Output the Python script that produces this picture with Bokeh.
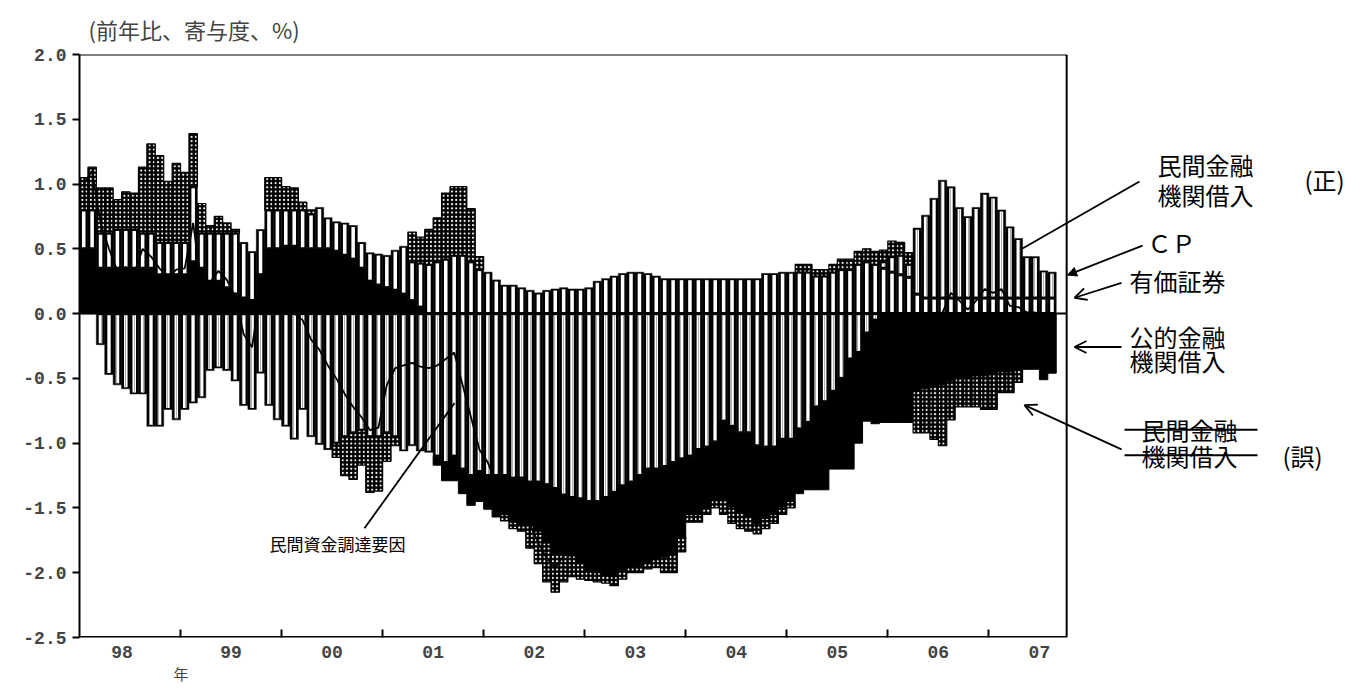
import numpy as np
from bokeh.plotting import figure
from bokeh.models import Range1d, FixedTicker, Arrow, OpenHead, NormalHead, Title
from bokeh.embed import file_html
from bokeh.resources import INLINE
from bokeh.core.properties import value

# ---- data: monthly contributions, 1998/01 .. 2007/08 (percent points) ----
start_year = 1998
public = [0.5, 0.5, 0.35, 0.35, 0.35, 0.35, 0.35, 0.35, 0.35, 0.3, 0.3, 0.3,
          0.3, 0.4, 0.35, 0.25, 0.25, 0.2, 0.15, 0.12, 0.1, 0.3, 0.5, 0.5,
          0.52, 0.52, 0.5, 0.5, 0.5, 0.5, 0.48, 0.45, 0.42, 0.35, 0.25, 0.22,
          0.2, 0.18, 0.15, 0.1, 0.05, 0.0, -0.07, -0.14, -0.19, -0.19, -0.23, -0.23,
          -0.26, -0.32, -0.3, -0.34, -0.36, -0.33, -0.38, -0.45, -0.5, -0.45, -0.45, -0.5,
          -0.53, -0.55, -0.6, -0.65, -0.65, -0.65, -0.7, -0.72, -0.7, -0.7, -0.7, -0.6,
          -0.45, -0.5, -0.47, -0.45, -0.6, -0.62, -0.62, -0.65, -0.6, -0.55, -0.52, -0.52,
          -0.48, -0.5, -0.52, -0.64, -0.68, -0.6, -0.7, -0.85, -0.7, -0.68, -0.8, -0.84,
          -0.84, -0.84, -0.84, -0.6, -0.58, -0.56, -0.55, -0.52, -0.5, -0.5, -0.48, -0.48,
          -0.47, -0.45, -0.45, -0.43, -0.43, -0.43, -0.51, -0.46]
securities = [0.3, 0.3, 0.27, 0.27, 0.3, 0.3, 0.3, 0.27, 0.27, 0.25, 0.25, 0.25,
              0.25, 0.58, 0.27, 0.37, 0.37, 0.42, 0.47, 0.43, 0.38, 0.35, 0.3, 0.3,
              0.28, 0.28, 0.3, 0.27, 0.32, 0.24, 0.23, 0.25, 0.26, 0.2, 0.22, 0.24,
              0.25, 0.31, 0.37, 0.3, 0.34, 0.38, 0.4, 0.42, 0.45, 0.45, 0.4, 0.34,
              0.32, 0.26, 0.22, 0.22, 0.2, 0.18, 0.16, 0.18, 0.19, 0.2, 0.19, 0.19,
              0.2, 0.25, 0.27, 0.29, 0.31, 0.32, 0.32, 0.31, 0.29, 0.27, 0.27, 0.27,
              0.27, 0.27, 0.27, 0.27, 0.27, 0.27, 0.27, 0.27, 0.27, 0.31, 0.31, 0.32,
              0.32, 0.32, 0.32, 0.29, 0.29, 0.32, 0.34, 0.34, 0.38, 0.4, 0.38, 0.35,
              0.32, 0.3, 0.28, 0.15, 0.12, 0.12, 0.12, 0.12, 0.12, 0.12, 0.12, 0.12,
              0.12, 0.12, 0.12, 0.12, 0.12, 0.12, 0.12, 0.12]
bank_loans = [0.0, 0.0, -0.24, -0.47, -0.55, -0.58, -0.62, -0.62, -0.87, -0.87, -0.74, -0.82,
              -0.74, -0.69, -0.65, -0.44, -0.42, -0.44, -0.52, -0.71, -0.74, -0.46, -0.71, -0.82,
              -0.87, -0.97, -0.74, -0.95, -1.01, -1.05, -1.0, -0.95, -0.92, -0.9, -0.95, -0.95,
              -0.92, -0.95, -1.06, -1.02, -1.06, -1.07, -1.1, -1.15, -1.1, -1.2, -1.25, -1.22,
              -1.25, -1.25, -1.25, -1.27, -1.27, -1.3, -1.3, -1.32, -1.35, -1.4, -1.42, -1.43,
              -1.45, -1.45, -1.42, -1.38, -1.33, -1.3, -1.25, -1.2, -1.2, -1.18, -1.15, -1.12,
              -1.1, -1.05, -1.03, -0.99, -0.83, -0.87, -0.92, -0.92, -1.02, -1.03, -1.03, -0.97,
              -0.97, -0.89, -0.84, -0.72, -0.68, -0.6, -0.5, -0.35, -0.3, -0.15, -0.05, 0.05,
              0.12, 0.15, 0.1, 0.51, 0.64, 0.77, 0.91, 0.86, 0.7, 0.63, 0.7, 0.81,
              0.78, 0.68, 0.55, 0.46, 0.32, 0.32, 0.21, 0.2]
cp = [0.25, 0.33, 0.35, 0.35, 0.23, 0.29, 0.28, 0.51, 0.69, 0.67, 0.47, 0.61,
      0.54, 0.41, 0.23, 0.06, 0.13, 0.08, 0.03, 0.0, 0.0, 0.0, 0.25, 0.25,
      0.18, 0.17, 0.06, 0.03, 0.0, 0.0, -0.11, -0.3, -0.36, -0.27, -0.43, -0.42,
      -0.22, -0.07, 0.0, 0.23, 0.2, 0.27, 0.34, 0.51, 0.53, 0.53, 0.41, 0.1,
      0.0, 0.0, -0.05, -0.05, -0.05, -0.18, -0.25, -0.3, -0.3, -0.22, -0.16, -0.12,
      -0.08, -0.07, -0.06, -0.07, -0.07, -0.05, -0.05, -0.05, -0.06, -0.12, -0.15, -0.12,
      -0.06, -0.06, -0.05, -0.06, -0.12, -0.13, -0.12, -0.11, -0.08, -0.08, -0.07, -0.06,
      -0.05, 0.06, 0.06, 0.05, 0.05, 0.06, 0.08, 0.08, 0.1, 0.1, 0.1, 0.09,
      0.12, 0.1, 0.09, -0.32, -0.34, -0.41, -0.47, -0.3, -0.22, -0.22, -0.24, -0.26,
      -0.27, -0.16, -0.16, -0.1, 0.0, 0.0, 0.0, 0.0]
private_funding = [1.0, 1.1, 0.7, 0.5, 0.33, 0.36, 0.31, 0.5, 0.44, 0.35, 0.28, 0.34,
                   0.35, 0.7, 0.2, 0.24, 0.33, 0.26, 0.13, -0.16, -0.26, 0.19, 0.34, 0.23,
                   0.11, 0.0, -0.05, -0.2, -0.28, -0.4, -0.5, -0.62, -0.72, -0.8, -0.9, -0.88,
                   -0.55, -0.42, -0.4, -0.38, -0.41, -0.42, -0.4, -0.35, -0.3, -0.55, -0.8, -1.05,
                   -1.15, -1.31, -1.38, -1.44, -1.48, -1.63, -1.77, -1.89, -1.96, -1.87, -1.84, -1.86,
                   -1.86, -1.82, -1.81, -1.81, -1.74, -1.68, -1.68, -1.66, -1.67, -1.73, -1.73, -1.57,
                   -1.34, -1.34, -1.28, -1.23, -1.28, -1.35, -1.39, -1.41, -1.43, -1.35, -1.31, -1.23,
                   -1.18, -1.07, -1.03, -1.07, -1.07, -0.88, -0.84, -0.84, -0.57, -0.38, -0.45, -0.35,
                   -0.28, -0.29, -0.37, -0.26, -0.16, -0.08, 0.01, 0.16, 0.1, 0.03, 0.1, 0.19,
                   0.16, 0.19, 0.06, 0.05, 0.01, 0.01, -0.18, -0.14]
year_labels = ["98", "99", "00", "01", "02", "03", "04", "05", "06", "07"]
y_ticks = [2.0, 1.5, 1.0, 0.5, 0.0, -0.5, -1.0, -1.5, -2.0, -2.5]

N = len(public)
xs = [start_year + (i + 0.5) / 12 for i in range(N)]
W = 1.0 / 12
PXY = 101.04                       # pixels per year
X0, XR = 1998.0, 2007.77          # plot box left / right edge
FIG_W, FIG_H = 1370, 683
BL, BT, BB = 79, 45, 46
XEND = X0 + (FIG_W - BL) / PXY    # frame continues to the right for the notes
TOP_PX = 51                        # page y of the frame top
PXU = (FIG_H - BT - BB) / 4.5      # pixels per unit on y

# ---- stacking (positive upward, negative downward) ----
series = {"public": public, "sec": securities, "bank": bank_loans, "cp": cp}
pos_order = ["public", "sec", "bank", "cp"]
neg_order = ["bank", "public", "sec", "cp"]
segs = {k: {"x": [], "bottom": [], "top": []} for k in series}
for i in range(N):
    base = 0.0
    for k in pos_order:
        v = series[k][i]
        if v > 0:
            segs[k]["x"].append(xs[i]); segs[k]["bottom"].append(base); segs[k]["top"].append(base + v)
            base += v
    base = 0.0
    for k in neg_order:
        v = series[k][i]
        if v < 0:
            segs[k]["x"].append(xs[i]); segs[k]["bottom"].append(base + v); segs[k]["top"].append(base)
            base += v

p = figure(width=FIG_W, height=FIG_H, output_backend="svg", toolbar_location=None,
           x_range=Range1d(X0, XEND), y_range=Range1d(-2.5, 2.0),
           min_border_left=BL, min_border_right=0, min_border_top=BT, min_border_bottom=BB,
           background_fill_color="white", border_fill_color="white", outline_line_color=None)
p.grid.visible = False

p.title.text = "(前年比、寄与度、%)"
p.title.text_font = "Noto Sans CJK JP"
p.title.text_font_size = "22px"
p.title.text_font_style = "normal"
p.title.text_line_height = 1.0
p.title.offset = 9
p.title.standoff = 20

inset = 0.012
def striped(key, hatch):
    d = segs[key]
    p.vbar(x=d["x"], bottom=d["bottom"], top=d["top"], width=W,
           fill_color="black", line_color="black", line_width=0.5)
    ix, ib, it = [], [], []
    for x, b, t in zip(d["x"], d["bottom"], d["top"]):
        if t - b > 2.5 * inset:
            ix.append(x); ib.append(b + inset); it.append(t - inset)
    kw = dict(hatch_pattern="|", hatch_color="#9a9a9a", hatch_scale=3, hatch_weight=0.8) if hatch else {}
    p.vbar(x=ix, bottom=ib, top=it, width=W * 0.42, fill_color="white", line_color=None, **kw)

# public financial institutions: solid black
d = segs["public"]
p.vbar(x=d["x"], bottom=d["bottom"], top=d["top"], width=W, fill_color="black", line_color="black", line_width=1)
striped("sec", False)
striped("bank", True)
d = segs["cp"]
p.vbar(x=d["x"], bottom=d["bottom"], top=d["top"], width=W, fill_color="black",
       line_color="black", line_width=1.2, hatch_pattern="dot", hatch_color="white",
       hatch_scale=4.2, hatch_weight=0.6)

# total line
p.line(xs, private_funding, line_color="black", line_width=1.8)

# zero line and box
p.segment(x0=[X0, X0, XR], y0=[0.0, 2.0, -2.5], x1=[XR, XR, XR], y1=[0.0, 2.0, 2.0], line_color="black", line_width=2)
p.segment(x0=[X0], y0=[-2.5], x1=[XR], y1=[-2.5], line_color="black", line_width=3)

# axes
ya = p.yaxis[0]
ya.ticker = FixedTicker(ticks=y_ticks)
ya.major_label_overrides = {t: f"{t:.1f}" for t in y_ticks}
ya.major_label_text_font = "Liberation Mono"
ya.major_label_text_font_style = "bold"
ya.major_label_text_font_size = "18px"
ya.major_tick_out = 7
ya.major_tick_in = 0
ya.major_tick_line_width = 2
ya.axis_line_width = 2
ya.minor_tick_line_color = None
ya.major_label_standoff = 6

xa = p.xaxis[0]
label_pos = [1998.42] + [y + 0.5 for y in range(1999, 2008)]
xa.ticker = FixedTicker(ticks=label_pos, minor_ticks=list(range(1999, 2008)))
xa.major_label_overrides = {pos: lab for pos, lab in zip(label_pos, year_labels)}
xa.major_tick_line_color = None
xa.major_tick_out = 0
xa.major_tick_in = 0
xa.minor_tick_in = 8
xa.minor_tick_out = 0
xa.minor_tick_line_width = 2
xa.axis_line_color = None
xa.major_label_text_font = "Liberation Mono"
xa.major_label_text_font_style = "bold"
xa.major_label_text_font_size = "18px"
xa.major_label_text_line_height = 0.9
xa.major_label_standoff = 8

# "年" below the first year label
p.add_layout(Title(text="年", align="left", offset=94, standoff=0, text_line_height=0.8,
                   text_font="Noto Sans CJK JP", text_font_size="15px", text_font_style="normal"), "below")

# ---- annotations (positions given in pixels of the plot box) ----
def px2x(px):
    return X0 + (px - 80) / PXY
def py2y(py):
    return 2.0 - (py - TOP_PX) / PXU

jp = value("Noto Sans CJK JP")
p.text(x=[px2x(338)], y=[py2y(548)], text=["民間資金調達要因"], text_font=jp,
       text_font_size=value("17px"), text_align="center", text_baseline="middle")
p.segment(x0=[px2x(365)], y0=[py2y(532)], x1=[px2x(455)], y1=[py2y(405)], line_color="black", line_width=1.8)

hand_x = [px2x(1206), px2x(1206), px2x(1325)]
hand_y = [py2y(163), py2y(193), py2y(178)]
p.text(x=hand_x, y=hand_y, text=["民間金融", "機関借入", "(正)"], text_font=jp,
       text_font_size=value("24px"), text_align="center", text_baseline="middle")

notes_x = [px2x(1172), px2x(1178), px2x(1178), px2x(1178), px2x(1190), px2x(1190), px2x(1303)]
notes_y = [py2y(242), py2y(280), py2y(337), py2y(362), py2y(432), py2y(458), py2y(458)]
notes_t = ["ＣＰ", "有価証券", "公的金融", "機関借入", "民間金融", "機関借入", "(誤)"]
p.text(x=notes_x, y=notes_y, text=notes_t, text_font=jp, text_font_size=value("24px"),
       text_align="center", text_baseline="middle")

# strike-through of the wrong label
p.segment(x0=[px2x(1125), px2x(1125)], y0=[py2y(432), py2y(458)], x1=[px2x(1258), px2x(1258)],
          y1=[py2y(432), py2y(458)], line_color="black", line_width=2)

# pointer to bank loans (correct)
p.segment(x0=[px2x(1140)], y0=[py2y(180)], x1=[px2x(1023)], y1=[py2y(248)], line_color="black", line_width=1.8)
p.add_layout(Arrow(end=NormalHead(size=9, fill_color="black", line_color="black"),
                   x_start=px2x(1143), y_start=py2y(245), x_end=px2x(1068), y_end=py2y(275), line_width=1.8))
p.add_layout(Arrow(end=OpenHead(size=12, line_width=1.8),
                   x_start=px2x(1122), y_start=py2y(283), x_end=px2x(1075), y_end=py2y(298), line_width=1.8))
p.add_layout(Arrow(end=OpenHead(size=12, line_width=1.8),
                   x_start=px2x(1122), y_start=py2y(348), x_end=px2x(1075), y_end=py2y(348), line_width=1.8))
p.add_layout(Arrow(end=OpenHead(size=12, line_width=1.8),
                   x_start=px2x(1122), y_start=py2y(452), x_end=px2x(1025), y_end=py2y(407), line_width=1.8))

open("out.html", "w").write(file_html(p, INLINE))
